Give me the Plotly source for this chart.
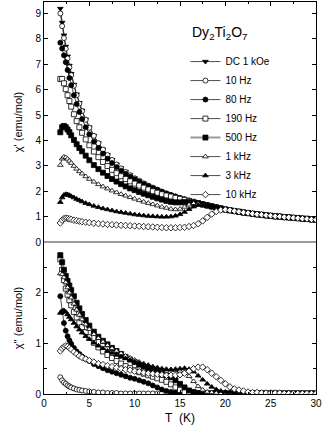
import plotly.graph_objects as go

# temperature grid (K), shared by all series
T = [1.8, 2.0, 2.2, 2.4, 2.6, 2.8, 3.0, 3.3, 3.6, 3.9, 4.2, 4.6, 5.0,
     5.5, 6.0, 6.5, 7.0, 7.5, 8.0, 8.5, 9.0, 9.5, 10.0,
     10.5, 11.0, 11.5, 12.0, 12.5, 13.0, 13.5, 14.0, 14.5, 15.0,
     15.5, 16.0, 16.5, 17.0, 17.5, 18.0, 18.5, 19.0, 19.5, 20.0,
     20.5, 21.0, 21.5, 22.0, 22.5, 23.0, 23.5, 24.0, 24.5, 25.0,
     25.5, 26.0, 26.5, 27.0, 27.5, 28.0, 28.5, 29.0, 29.5, 30.0]

# chi' (emu/mol)
chi1_dc = [9.19, 8.64, 8.14, 7.70, 7.31, 6.95, 6.63, 6.20, 5.82, 5.48, 5.18, 4.83, 4.52,
           4.19, 3.90, 3.65, 3.43, 3.24, 3.06, 2.91, 2.77, 2.64, 2.52,
           2.42, 2.32, 2.23, 2.15, 2.07, 1.99, 1.92, 1.86, 1.79, 1.74,
           1.68, 1.63, 1.58, 1.53, 1.48, 1.44, 1.40, 1.36, 1.32, 1.28,
           1.25, 1.22, 1.19, 1.16, 1.14, 1.11, 1.09, 1.07, 1.05, 1.03,
           1.01, 1.00, 0.98, 0.97, 0.95, 0.94, 0.92, 0.91, 0.89, 0.88]
chi1_10hz = [9.00, 8.50, 8.03, 7.61, 7.23, 6.88, 6.57, 6.15, 5.78, 5.45, 5.15, 4.81, 4.50,
             4.18, 3.89, 3.64, 3.42, 3.23, 3.05, 2.90, 2.76, 2.63, 2.51,
             2.41, 2.31, 2.22, 2.14, 2.06, 1.98, 1.91, 1.85, 1.79, 1.73,
             1.68, 1.63, 1.58, 1.53, 1.48, 1.44, 1.40, 1.36, 1.32, 1.28,
             1.25, 1.22, 1.19, 1.16, 1.14, 1.11, 1.09, 1.07, 1.05, 1.03,
             1.01, 1.00, 0.98, 0.97, 0.95, 0.94, 0.92, 0.91, 0.89, 0.88]
chi1_80hz = [7.85, 7.62, 7.35, 7.08, 6.77, 6.46, 6.17, 5.78, 5.43, 5.12, 4.84, 4.52, 4.24,
             3.95, 3.70, 3.48, 3.28, 3.11, 2.95, 2.81, 2.69, 2.57, 2.47,
             2.37, 2.28, 2.20, 2.12, 2.05, 1.98, 1.91, 1.85, 1.79, 1.73,
             1.68, 1.63, 1.58, 1.53, 1.48, 1.44, 1.40, 1.36, 1.32, 1.28,
             1.25, 1.22, 1.19, 1.16, 1.14, 1.11, 1.09, 1.07, 1.05, 1.03,
             1.01, 1.00, 0.98, 0.97, 0.95, 0.94, 0.92, 0.91, 0.89, 0.88]
chi1_190hz = [6.42, 6.42, 6.25, 6.02, 5.78, 5.55, 5.33, 5.03, 4.76, 4.52, 4.30, 4.04, 3.81,
              3.56, 3.34, 3.15, 2.99, 2.84, 2.71, 2.59, 2.48, 2.39, 2.30,
              2.22, 2.14, 2.07, 2.00, 1.94, 1.88, 1.83, 1.79, 1.74, 1.70,
              1.66, 1.62, 1.58, 1.53, 1.48, 1.44, 1.40, 1.36, 1.32, 1.28,
              1.25, 1.22, 1.19, 1.16, 1.14, 1.11, 1.09, 1.07, 1.05, 1.03,
              1.01, 1.00, 0.98, 0.97, 0.95, 0.94, 0.92, 0.91, 0.89, 0.88]
chi1_500hz = [4.32, 4.52, 4.57, 4.52, 4.43, 4.33, 4.20, 4.02, 3.85, 3.70, 3.57, 3.40, 3.22,
              3.03, 2.87, 2.73, 2.60, 2.48, 2.38, 2.28, 2.19, 2.11, 2.04,
              1.97, 1.90, 1.84, 1.78, 1.72, 1.67, 1.62, 1.58, 1.56, 1.56,
              1.57, 1.57, 1.55, 1.52, 1.48, 1.44, 1.40, 1.36, 1.32, 1.28,
              1.25, 1.22, 1.19, 1.16, 1.14, 1.11, 1.09, 1.07, 1.05, 1.03,
              1.01, 1.00, 0.98, 0.97, 0.95, 0.94, 0.92, 0.91, 0.89, 0.88]
chi1_1khz = [3.03, 3.28, 3.35, 3.33, 3.27, 3.19, 3.11, 2.99, 2.88, 2.78, 2.69, 2.58, 2.48,
             2.37, 2.27, 2.18, 2.10, 2.02, 1.95, 1.88, 1.82, 1.76, 1.70,
             1.64, 1.58, 1.53, 1.48, 1.43, 1.38, 1.34, 1.30, 1.28, 1.30,
             1.38, 1.47, 1.52, 1.51, 1.48, 1.44, 1.40, 1.36, 1.32, 1.28,
             1.25, 1.22, 1.19, 1.16, 1.14, 1.11, 1.09, 1.07, 1.05, 1.03,
             1.01, 1.00, 0.98, 0.97, 0.95, 0.94, 0.92, 0.91, 0.89, 0.88]
chi1_3khz = [1.57, 1.75, 1.85, 1.88, 1.87, 1.84, 1.80, 1.75, 1.69, 1.64, 1.59, 1.53, 1.48,
             1.42, 1.37, 1.32, 1.28, 1.24, 1.20, 1.17, 1.14, 1.11, 1.08,
             1.06, 1.04, 1.02, 1.01, 1.00, 0.99, 0.99, 1.00, 1.03, 1.09,
             1.18, 1.29, 1.39, 1.45, 1.46, 1.44, 1.40, 1.36, 1.32, 1.28,
             1.25, 1.22, 1.19, 1.16, 1.14, 1.11, 1.09, 1.07, 1.05, 1.03,
             1.01, 1.00, 0.98, 0.97, 0.95, 0.94, 0.92, 0.91, 0.89, 0.88]
chi1_10khz = [0.75, 0.86, 0.92, 0.94, 0.93, 0.91, 0.89, 0.86, 0.84, 0.82, 0.80, 0.78, 0.76,
              0.74, 0.72, 0.71, 0.69, 0.68, 0.67, 0.66, 0.65, 0.64, 0.63,
              0.62, 0.61, 0.60, 0.59, 0.58, 0.57, 0.56, 0.56, 0.56, 0.57,
              0.58, 0.61, 0.65, 0.72, 0.83, 0.97, 1.10, 1.20, 1.26, 1.27,
              1.25, 1.22, 1.19, 1.16, 1.14, 1.11, 1.09, 1.07, 1.05, 1.03,
              1.01, 1.00, 0.98, 0.97, 0.95, 0.94, 0.92, 0.91, 0.89, 0.88]

# chi'' (emu/mol)
chi2_10hz = [0.33, 0.27, 0.23, 0.20, 0.17, 0.15, 0.13, 0.11, 0.09, 0.08, 0.07, 0.06, 0.05,
             0.04, 0.03, 0.03, 0.02, 0.02, 0.02, 0.01, 0.01, 0.01, 0.01,
             0.01, 0.01, 0.01, 0.01, 0.01, 0.01, 0.01, 0.01, 0.01, 0.01,
             0.01, 0.01, 0.01, 0.01, 0.01, 0.01, 0.01, 0.01, 0.01, 0.01,
             0.01, 0.01, 0.01, 0.01, 0.01, 0.01, 0.01, 0.01, 0.01, 0.01,
             0.01, 0.01, 0.01, 0.01, 0.01, 0.01, 0.01, 0.01, 0.01, 0.01]
chi2_80hz = [1.93, 1.62, 1.40, 1.25, 1.14, 1.06, 0.99, 0.91, 0.84, 0.79, 0.74, 0.69, 0.65,
             0.59, 0.55, 0.51, 0.47, 0.44, 0.41, 0.38, 0.35, 0.32, 0.30,
             0.27, 0.24, 0.21, 0.17, 0.13, 0.09, 0.06, 0.04, 0.03, 0.02,
             0.01, 0.01, 0.01, 0.01, 0.01, 0.01, 0.01, 0.01, 0.01, 0.01,
             0.01, 0.01, 0.01, 0.01, 0.01, 0.01, 0.01, 0.01, 0.01, 0.01,
             0.01, 0.01, 0.01, 0.01, 0.01, 0.01, 0.01, 0.01, 0.01, 0.01]
chi2_190hz = [2.66, 2.45, 2.25, 2.08, 1.96, 1.85, 1.75, 1.62, 1.51, 1.41, 1.32, 1.22, 1.12,
              1.01, 0.92, 0.84, 0.77, 0.71, 0.65, 0.60, 0.55, 0.51, 0.47,
              0.43, 0.40, 0.37, 0.34, 0.31, 0.28, 0.24, 0.19, 0.13, 0.08,
              0.04, 0.02, 0.01, 0.01, 0.01, 0.01, 0.01, 0.01, 0.01, 0.01,
              0.01, 0.01, 0.01, 0.01, 0.01, 0.01, 0.01, 0.01, 0.01, 0.01,
              0.01, 0.01, 0.01, 0.01, 0.01, 0.01, 0.01, 0.01, 0.01, 0.01]
chi2_500hz = [2.74, 2.60, 2.45, 2.33, 2.23, 2.14, 2.05, 1.93, 1.80, 1.69, 1.58, 1.46, 1.35,
              1.23, 1.13, 1.05, 0.98, 0.91, 0.85, 0.79, 0.73, 0.68, 0.63,
              0.58, 0.54, 0.50, 0.46, 0.43, 0.40, 0.37, 0.33, 0.27, 0.20,
              0.13, 0.07, 0.04, 0.02, 0.01, 0.01, 0.01, 0.01, 0.01, 0.01,
              0.01, 0.01, 0.01, 0.01, 0.01, 0.01, 0.01, 0.01, 0.01, 0.01,
              0.01, 0.01, 0.01, 0.01, 0.01, 0.01, 0.01, 0.01, 0.01, 0.01]
chi2_1khz = [2.38, 2.36, 2.30, 2.20, 2.10, 2.00, 1.90, 1.78, 1.66, 1.56, 1.47, 1.37, 1.28,
             1.18, 1.10, 1.03, 0.96, 0.90, 0.85, 0.80, 0.75, 0.71, 0.67,
             0.63, 0.60, 0.57, 0.54, 0.52, 0.50, 0.49, 0.48, 0.47, 0.45,
             0.42, 0.35, 0.25, 0.15, 0.08, 0.04, 0.03, 0.02, 0.01, 0.01,
             0.01, 0.01, 0.01, 0.01, 0.01, 0.01, 0.01, 0.01, 0.01, 0.01,
             0.01, 0.01, 0.01, 0.01, 0.01, 0.01, 0.01, 0.01, 0.01, 0.01]
chi2_3khz = [1.60, 1.64, 1.65, 1.62, 1.57, 1.52, 1.47, 1.40, 1.33, 1.27, 1.21, 1.14, 1.08,
             1.01, 0.95, 0.90, 0.85, 0.81, 0.77, 0.73, 0.70, 0.67, 0.64,
             0.61, 0.58, 0.56, 0.53, 0.51, 0.49, 0.48, 0.48, 0.49, 0.50,
             0.51, 0.49, 0.44, 0.36, 0.28, 0.20, 0.14, 0.09, 0.06, 0.04,
             0.03, 0.02, 0.01, 0.01, 0.01, 0.01, 0.01, 0.01, 0.01, 0.01,
             0.01, 0.01, 0.01, 0.01, 0.01, 0.01, 0.01, 0.01, 0.01, 0.01]
chi2_10khz = [0.85, 0.90, 0.93, 0.95, 0.94, 0.91, 0.88, 0.83, 0.79, 0.75, 0.72, 0.69, 0.66,
              0.63, 0.60, 0.58, 0.56, 0.54, 0.52, 0.50, 0.48, 0.47, 0.45,
              0.44, 0.42, 0.41, 0.40, 0.39, 0.38, 0.37, 0.37, 0.37, 0.38,
              0.41, 0.45, 0.50, 0.53, 0.53, 0.48, 0.41, 0.34, 0.27, 0.20,
              0.14, 0.10, 0.08, 0.06, 0.04, 0.03, 0.03, 0.02, 0.02, 0.02,
              0.02, 0.02, 0.01, 0.01, 0.01, 0.01, 0.01, 0.01, 0.01, 0.01]

labels = ['DC 1 kOe', '10 Hz', '80 Hz', '190 Hz', '500 Hz', '1 kHz', '3 kHz', '10 kHz']
chi1 = [chi1_dc, chi1_10hz, chi1_80hz, chi1_190hz, chi1_500hz, chi1_1khz, chi1_3khz, chi1_10khz]
chi2 = [None, chi2_10hz, chi2_80hz, chi2_190hz, chi2_500hz, chi2_1khz, chi2_3khz, chi2_10khz]

# (symbol, filled)
styles = [('triangle-down', True), ('circle', False), ('circle', True), ('square', False),
          ('square', True), ('triangle-up', False), ('triangle-up', True), ('diamond', False)]

fig = go.Figure()

for lab, y, (sym, filled) in zip(labels, chi1, styles):
    lcol = '#9a9a9a' if lab == '500 Hz' else 'black'
    lw = 2 if lab == '500 Hz' else 0.7
    fig.add_trace(go.Scatter(
        x=T, y=y, name=lab, mode='lines+markers',
        xaxis='x2', yaxis='y2',
        line=dict(color=lcol, width=lw),
        marker=dict(symbol=sym, size=5,
                    color='black' if filled else 'white',
                    line=dict(color='black', width=0.8)),
    ))

for lab, y, (sym, filled) in zip(labels, chi2, styles):
    if y is None:
        continue
    lcol = '#9a9a9a' if lab == '500 Hz' else 'black'
    lw = 2 if lab == '500 Hz' else 0.7
    fig.add_trace(go.Scatter(
        x=T, y=y, name=lab, mode='lines+markers', showlegend=False,
        xaxis='x', yaxis='y',
        line=dict(color=lcol, width=lw),
        marker=dict(symbol=sym, size=5,
                    color='black' if filled else 'white',
                    line=dict(color='black', width=0.8)),
    ))

split = 152 / 392

fig.add_annotation(
    text='Dy<sub>2</sub>Ti<sub>2</sub>O<sub>7</sub>',
    xref='paper', yref='paper', x=0.647, y=0.95,
    showarrow=False, font=dict(size=14, color='black')
)

fig.update_layout(
    width=327,
    height=425,
    margin=dict(l=44, r=11, t=2, b=31),
    paper_bgcolor='white',
    plot_bgcolor='white',
    font=dict(family='Liberation Sans, Arial, sans-serif', size=10, color='black'),
    legend=dict(
        x=0.52, y=0.885, xanchor='left', yanchor='top',
        font=dict(size=10),
        bgcolor='rgba(0,0,0,0)',
        itemwidth=30,
        tracegroupgap=0
    ),
    xaxis=dict(
        domain=[0, 1], anchor='y', range=[0, 30],
        tickvals=[0, 5, 10, 15, 20, 25, 30],
        ticks='inside', ticklen=4, tickcolor='black',
        showline=True, linecolor='black', linewidth=1, mirror=False,
        showgrid=False, zeroline=False,
        minor=dict(dtick=2.5, ticks='inside', ticklen=2, tickcolor='black'),
        title=dict(text='T  (K)', font=dict(size=12), standoff=6)
    ),
    xaxis2=dict(
        domain=[0, 1], anchor='y2', matches='x', range=[0, 30], side='top',
        showticklabels=False, tickvals=[0, 5, 10, 15, 20, 25, 30],
        ticks='inside', ticklen=4, tickcolor='black',
        showline=True, linecolor='black', linewidth=1,
        showgrid=False, zeroline=False,
        minor=dict(dtick=2.5, ticks='inside', ticklen=2, tickcolor='black')
    ),
    yaxis=dict(
        domain=[0, split], anchor='x', range=[0, 3],
        tickvals=[0, 1, 2],
        ticks='inside', ticklen=4, tickcolor='black',
        showline=True, linecolor='black', linewidth=1, mirror='allticks',
        showgrid=False, zeroline=False,
        minor=dict(dtick=0.5, ticks='inside', ticklen=3, tickcolor='black'),
        title=dict(text="χ'' (emu/mol)", font=dict(size=11), standoff=10)
    ),
    yaxis2=dict(
        domain=[split, 1], anchor='x2', range=[0, 9.45],
        tickvals=[0, 1, 2, 3, 4, 5, 6, 7, 8, 9],
        ticks='inside', ticklen=4, tickcolor='black',
        showline=True, linecolor='black', linewidth=1, mirror='allticks',
        showgrid=False,
        zeroline=True, zerolinecolor='#9a9a9a', zerolinewidth=1.5,
        title=dict(text="χ' (emu/mol)", font=dict(size=11), standoff=10)
    )
)

# page body has a default 8px margin; drop it so the 327x425 figure fits the window
fig.write_html("out.html", config={'displayModeBar': False},
               post_script="document.body.style.margin='0';")
